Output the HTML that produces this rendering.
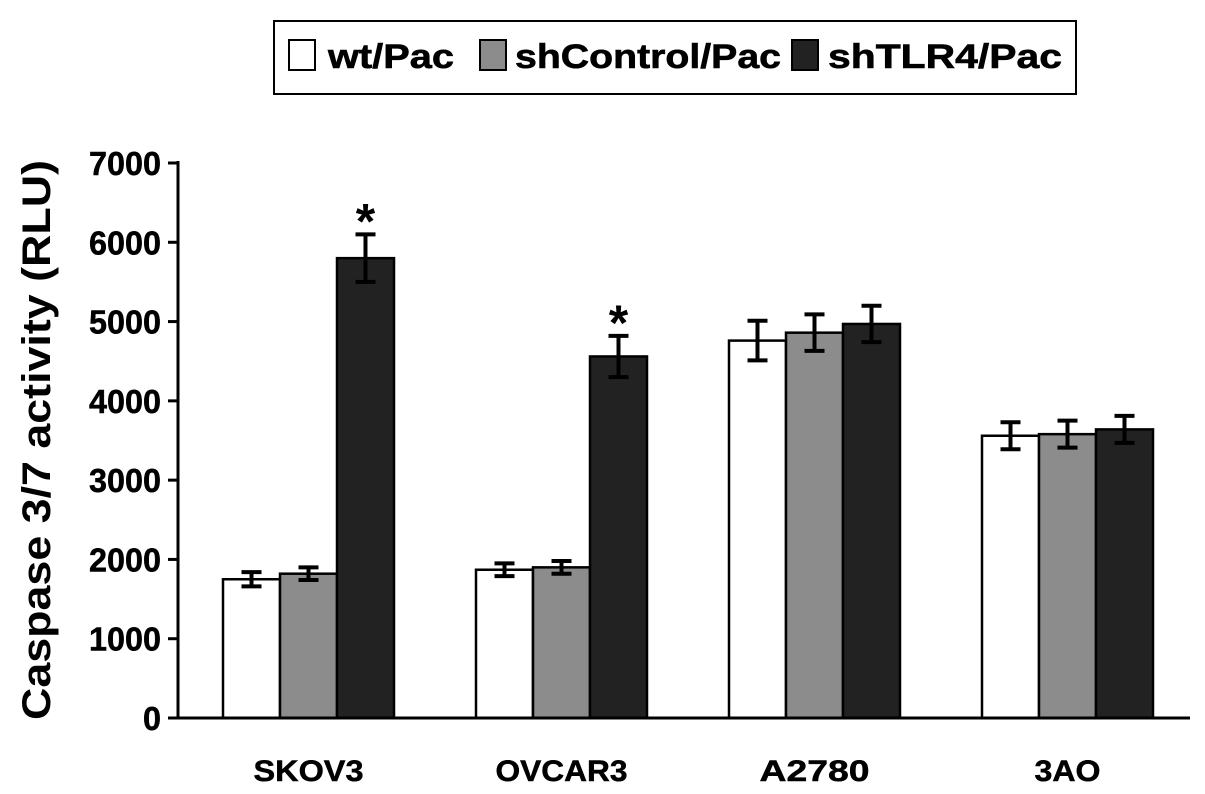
<!DOCTYPE html>
<html><head><meta charset="utf-8"><style>
body{margin:0;background:#fff;}
svg{display:block;font-family:"Liberation Sans",Arial,sans-serif;font-weight:bold;}
</style></head><body>
<svg id="c" width="1205" height="794" viewBox="0 0 1205 794">
<g>
<rect x="274" y="21" width="802" height="73" fill="#fff" stroke="#000" stroke-width="2"/>
<rect x="289" y="40" width="26" height="30" fill="#fff" stroke="#000" stroke-width="2"/>
<text x="328" y="68" font-size="34" textLength="126" lengthAdjust="spacingAndGlyphs" stroke="#000" stroke-width="0.6">wt/Pac</text>
<rect x="480" y="40" width="26" height="30" fill="#8c8c8c" stroke="#000" stroke-width="2"/>
<text x="515" y="68" font-size="34" textLength="266" lengthAdjust="spacingAndGlyphs" stroke="#000" stroke-width="0.6">shControl/Pac</text>
<rect x="792" y="40" width="26" height="30" fill="#222" stroke="#000" stroke-width="2"/>
<text x="828" y="68" font-size="34" textLength="234" lengthAdjust="spacingAndGlyphs" stroke="#000" stroke-width="0.6">shTLR4/Pac</text>
</g>
<text transform="translate(50,440) rotate(-90)" text-anchor="middle" font-size="40" textLength="560" lengthAdjust="spacingAndGlyphs">Caspase 3/7 activity (RLU)</text>
<g id="plot"></g>
</svg>
<script>
const categories=["SKOV3","OVCAR3","A2780","3AO"];
const wtValues=[1750,1870,4760,3560];
const wtErr=[90,80,250,170];
const ctrlValues=[1820,1900,4860,3580];
const ctrlErr=[80,80,230,170];
const tlrValues=[5800,4560,4970,3640];
const tlrErr=[300,260,230,170];
const significant=[true,true,false,false];
const yTicks=[0,1000,2000,3000,4000,5000,6000,7000];

const NS="http://www.w3.org/2000/svg";
const g=document.getElementById('plot');
const y0=718,yTop=163,yMax=7000;
const y=v=>y0-(v/yMax)*(y0-yTop);
const groupStart=223,groupStep=253,barW=57;
const x=(i,s)=>groupStart+i*groupStep+s*barW;
function el(t,a){const e=document.createElementNS(NS,t);for(const k in a)e.setAttribute(k,a[k]);g.appendChild(e);return e;}

yTicks.forEach(t=>{
  const l=el('line',{x1:168,x2:178,y1:y(t),y2:y(t),stroke:'#000','stroke-width':3});
  
  
  const tx=el('text',{x:161,y:y(t)+12,'text-anchor':'end','font-size':33,textLength:String(t).length*18,lengthAdjust:'spacingAndGlyphs',stroke:'#000','stroke-width':0.5});
  tx.textContent=t;
  
  
});
const series=[[wtValues,wtErr,'#fff','wt'],[ctrlValues,ctrlErr,'#8c8c8c','shcontrol'],[tlrValues,tlrErr,'#222','shtlr4']];
categories.forEach((c,i)=>{
  series.forEach((s,si)=>{
    const v=s[0][i],e=s[1][i],bx=x(i,si);
    const r=el('rect',{x:bx,y:y(v),width:barW,height:y0-y(v),fill:s[2],stroke:'#000','stroke-width':2.5});
    
    
    const cx=bx+barW/2;
    const eb=el('path',{d:`M${cx},${y(v+e)}V${y(v-e)}M${cx-10},${y(v+e)}H${cx+10}M${cx-10},${y(v-e)}H${cx+10}`,stroke:'#000','stroke-width':4,fill:'none'});
    
    
    if(si===2&&significant[i]){
      const st=el('text',{x:cx,y:y(v+e)+4,'text-anchor':'middle','font-size':50});
      st.textContent='*';
      
      
    }
  });
  const lb=el('text',{x:x(i,1.5),y:781,'text-anchor':'middle','font-size':30,textLength:c.length*22,lengthAdjust:'spacingAndGlyphs',stroke:'#000','stroke-width':0.5});
  lb.textContent=c;
  
  
});
const ya=el('line',{x1:178,x2:178,y1:161,y2:719,stroke:'#000','stroke-width':3});


const xa=el('line',{x1:172,x2:1190,y1:718,y2:718,stroke:'#000','stroke-width':3});


</script>
</body></html>
